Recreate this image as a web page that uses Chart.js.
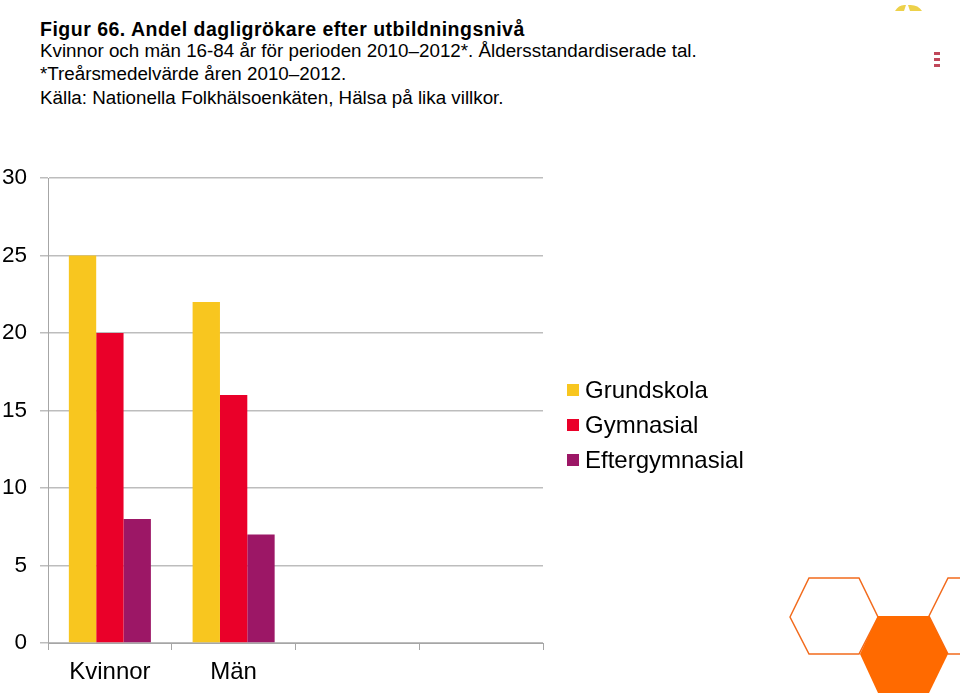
<!DOCTYPE html>
<html>
<head>
<meta charset="utf-8">
<script src="https://cdn.jsdelivr.net/npm/chart.js@4/dist/chart.umd.min.js"></script>
<style>
  body { margin: 0; background: #fff; font-family: "Liberation Sans", Arial, sans-serif; }
  #wrap { position: relative; width: 960px; height: 694px; overflow: hidden; }
  #myChart { position: absolute; left: 0; top: 0; }
  .title { position: absolute; left: 40px; font-size: 18.8px; color: #000; white-space: nowrap; }
  #legend { position: absolute; left: 567px; top: 376px; font-size: 24px; }
  #legend div { height: 35px; line-height: 28px; white-space: nowrap; }
  #legend span { display: inline-block; width: 12px; height: 12px; margin-right: 6px; vertical-align: 2px; }
  svg { position: absolute; left: 0; top: 0; }
</style>
</head>
<body>
<div id="wrap">
  <svg width="960" height="694">
    <polygon points="790,617 809,578 859,578 878,617 859,654 809,654" fill="none" stroke="#F26B1D" stroke-width="1.5"/>
    <polygon points="929,616 948,578 998,578 1017,616 998,654 948,654" fill="none" stroke="#F26B1D" stroke-width="1.5"/>
    <polygon points="860,654 878,616 929,616 948,654 929,693 878,693" fill="#FF6A00"/>
    <path d="M895,11 Q899,4 906,5 L904,11 Z M908,5 Q918,4 922,11 L910,11 Z" fill="#EDD14A"/>
    <rect x="934" y="52" width="6" height="3" fill="#C0475A"/>
    <rect x="934" y="58" width="6" height="3" fill="#C0475A"/>
    <rect x="934" y="64" width="6" height="3" fill="#C0475A"/>
  </svg>
  <div class="title" style="top:18px;font-weight:bold;font-size:19.5px;letter-spacing:0.5px;">Figur 66. Andel dagligrökare efter utbildningsnivå</div>
  <div class="title" style="top:40px;">Kvinnor och män 16-84 år för perioden 2010–2012*. Åldersstandardiserade tal.</div>
  <div class="title" style="top:63px;">*Treårsmedelvärde åren 2010–2012.</div>
  <div class="title" style="top:87px;">Källa: Nationella Folkhälsoenkäten, Hälsa på lika villkor.</div>
  <canvas id="myChart" width="960" height="694"></canvas>
  <div id="legend"></div>
</div>
<script>
const categories = ['Kvinnor', 'Män', '', ''];
const seriesNames = ['Grundskola', 'Gymnasial', 'Eftergymnasial'];
const grundskola = [25, 22, null, null];
const gymnasial = [20, 16, null, null];
const eftergymnasial = [8, 7, null, null];
const yTicks = [0, 5, 10, 15, 20, 25, 30];
const colors = ['#F8C61F', '#EA0029', '#9C1766'];

const font = '"Liberation Sans", Arial, sans-serif';

const ctx = document.getElementById('myChart');
new Chart(ctx, {
  type: 'bar',
  data: {
    labels: categories,
    datasets: [grundskola, gymnasial, eftergymnasial].map((d, i) => ({
      label: seriesNames[i],
      data: d,
      backgroundColor: colors[i],
      borderWidth: 0,
      barPercentage: 1,
      categoryPercentage: 0.663,
    })),
  },
  options: {
    animation: false,
    responsive: false,
    layout: { padding: { top: 178, right: 417, left: 0, bottom: 0 } },
    plugins: { legend: { display: false }, tooltip: { enabled: false } },
    scales: {
      x: {
        afterFit: (s) => { s.height = 51; },
        grid: { drawOnChartArea: false, color: '#A6A6A6', tickLength: 7, offset: true },
        border: { color: '#A6A6A6' },
        ticks: { color: '#000', font: { family: font, size: 24 }, padding: 8, maxRotation: 0 },
      },
      y: {
        min: 0,
        max: 30,
        afterFit: (s) => { s.width = 48; },
        afterBuildTicks: (s) => { s.ticks = yTicks.map((v) => ({ value: v })); },
        grid: { color: '#BDBDBD', lineWidth: 1.5, tickLength: 8 },
        border: { color: '#A6A6A6' },
        ticks: { color: '#000', font: { family: font, size: 22.5 }, padding: 13 },
      },
    },
  },
});

const legend = document.getElementById('legend');
seriesNames.forEach((name, i) => {
  const row = document.createElement('div');
  row.innerHTML = '<span style="background:' + colors[i] + '"></span>' + name;
  legend.appendChild(row);
});
</script>
</body>
</html>
